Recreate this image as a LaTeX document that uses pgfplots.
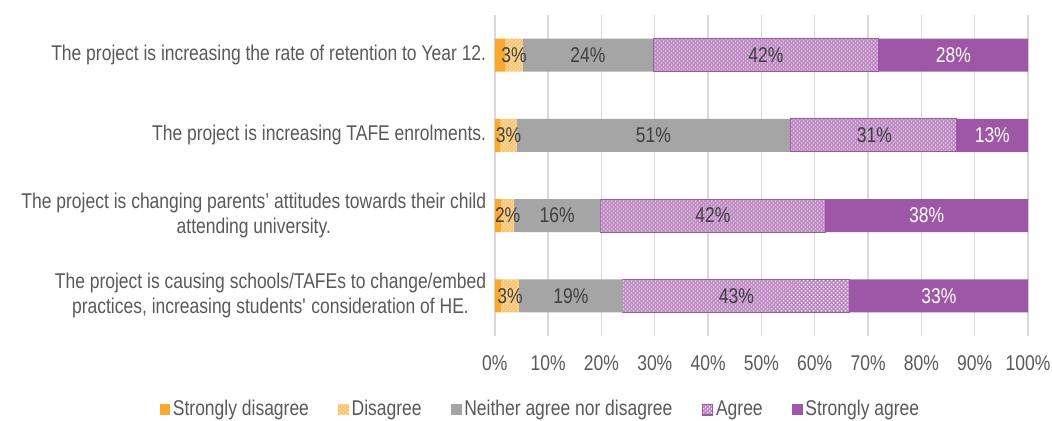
\documentclass[border=0pt]{standalone}
\usepackage{pgfplots}
\pgfplotsset{compat=1.18}
\usepackage{fontspec}
\setmainfont{Liberation Sans}[FakeStretch=0.82]
\usetikzlibrary{patterns}
\definecolor{sd}{HTML}{F9A832}
\definecolor{dis}{HTML}{FBC46E}
\definecolor{neu}{HTML}{A5A5A5}
\definecolor{agr}{HTML}{BE8AC4}
\definecolor{agrb}{HTML}{9E57A7}
\definecolor{sa}{HTML}{9E57A7}
\definecolor{txt}{HTML}{595959}
\definecolor{lab}{HTML}{404040}
\definecolor{grid}{HTML}{D9D9D9}
\newcommand{\ff}{\fontsize{16}{19}\selectfont}
\begin{document}
\ff
\begin{tikzpicture}
\begin{axis}[
  name=main,
  scale only axis,
  width=400pt, height=240.75pt,
  xbar stacked,
  bar width=24.75pt,
  xmin=0, xmax=100,
  ymin=-0.5, ymax=3.5,
  xtick={0,10,...,100},
  xticklabel={\pgfmathprintnumber{\tick}\%},
  /pgf/number format/assume math mode=true,
  xmajorgrids,
  grid style={draw=grid, line width=1pt},
  axis line style={draw=none},
  major tick length=0pt,
  tick label style={text=txt, font=\ff},
  xticklabel style={yshift=-9pt},
  ytick={0,1,2,3},
  yticklabels={{The project is causing schools/TAFEs to change/embed\\practices, increasing students\textquotesingle\ consideration of HE.},
               {The project is changing parents' attitudes towards their child\\attending university.},
               {The project is increasing TAFE enrolments.},
               {The project is increasing the rate of retention to Year 12.}},
  yticklabel style={align=center, xshift=-1pt},
  legend columns=5,
  legend style={draw=none, at={(0.086,-0.23)}, anchor=center, text=txt,
    font=\ff,
    /tikz/every even column/.append style={column sep=20pt},
    inner sep=0pt},
  legend image code/.code={\draw[#1, draw=none] (0pt,-4pt) rectangle (8pt,4pt);},
]
\addplot[fill=sd, draw=none] coordinates {(2,3) (1,2) (1.2,1) (1.2,0)};
\addlegendentry{Strongly disagree}
\addplot[fill=dis, draw=none, postaction={pattern=crosshatch dots, pattern color=white}] coordinates {(3.2,3) (3.1,2) (2.4,1) (3.3,0)};
\addlegendentry{Disagree}
\addplot[fill=neu, draw=none] coordinates {(24.5,3) (51.3,2) (16.2,1) (19.5,0)};
\addlegendentry{Neither agree nor disagree}
\addplot[fill=agr, draw=agrb, line width=0.8pt, postaction={pattern=crosshatch dots, pattern color=white}] coordinates {(42.3,3) (31.2,2) (42.2,1) (42.6,0)};
\addlegendentry{Agree}
\addplot[fill=sa, draw=none] coordinates {(28,3) (13.4,2) (38,1) (33.4,0)};
\addlegendentry{Strongly agree}
\end{axis}
\begin{axis}[
  scale only axis,
  width=400pt, height=240.75pt,
  xmin=0, xmax=100,
  ymin=-0.5, ymax=3.5,
  hide axis,
  clip=false,
  nodes near coords,
  point meta=explicit symbolic,
  every node near coord/.append style={anchor=center, font=\ff},
]
\addplot[only marks, mark=none, nodes near coords style={text=lab}] coordinates {
  (3.6,3) [3\%] (17.45,3) [24\%] (50.85,3) [42\%]
  (2.55,2) [3\%] (29.75,2) [51\%] (71.2,2) [31\%]
  (2.4,1) [2\%] (11.7,1) [16\%] (40.9,1) [42\%]
  (2.85,0) [3\%] (14.25,0) [19\%] (45.3,0) [43\%]
};
\addplot[only marks, mark=none, nodes near coords style={text=white}] coordinates {
  (86,3) [28\%] (93.3,2) [13\%] (81,1) [38\%] (83.3,0) [33\%]
};
\end{axis}
\pgfresetboundingbox
\path[use as bounding box] ([shift={(-371.25pt,-63.75pt)}]main.south west) rectangle ([shift={(18pt,11.25pt)}]main.north east);
\end{tikzpicture}
\end{document}
